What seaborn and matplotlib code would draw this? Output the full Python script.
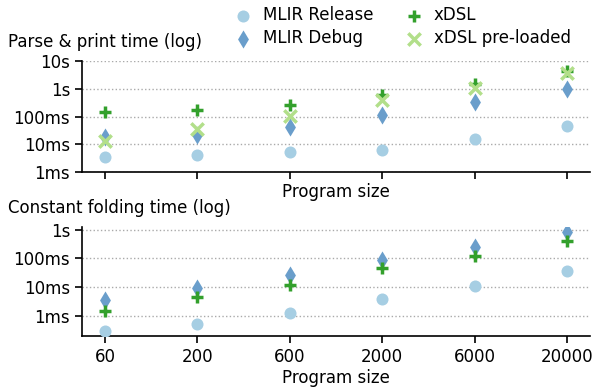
import matplotlib
matplotlib.use("Agg")
import matplotlib.pyplot as plt
import seaborn as sns
import pandas as pd
import numpy as np

sizes = ["60", "200", "600", "2000", "6000", "20000"]

# Parse & print times (seconds)
pp_release = [0.0035, 0.0040, 0.0052, 0.0063, 0.015, 0.045]
pp_debug = [0.018, 0.021, 0.043, 0.117, 0.33, 1.0]
pp_xdsl = [0.148, 0.173, 0.257, 0.575, 1.48, 4.5]
pp_xdsl_pre = [0.013, 0.036, 0.108, 0.40, 1.1, 3.8]

# Constant folding times (seconds)
cf_release = [0.00029, 0.00051, 0.0012, 0.0037, 0.0107, 0.037]
cf_debug = [0.0034, 0.0096, 0.026, 0.088, 0.25, 0.85]
cf_xdsl = [0.0015, 0.0044, 0.012, 0.045, 0.12, 0.41]

colors = {"MLIR Release": "#a6cee3", "MLIR Debug": "#6a9ecb",
          "xDSL": "#33a02c", "xDSL pre-loaded": "#b2df8a"}
markers = {"MLIR Release": "o", "MLIR Debug": "d",
           "xDSL": "+", "xDSL pre-loaded": "x"}
FS = 12

sns.set_theme(style="ticks", rc={"axes.edgecolor": "black",
                                 "xtick.color": "black", "ytick.color": "black",
                                 "text.color": "black", "axes.labelcolor": "black"})
plt.rcParams['font.family'] = ['DejaVu Sans']
plt.rcParams['font.size'] = FS

fig = plt.figure(figsize=(5.93, 3.88), dpi=100)
ax1 = fig.add_axes([82/593, 1-172/388, (590-82)/593, (172-61)/388])
ax2 = fig.add_axes([82/593, 1-336/388, (590-82)/593, (336-227)/388])


def draw(ax, data):
    rows = []
    for name, vals in data.items():
        for s, v in zip(sizes, vals):
            rows.append({"size": s, "time": v, "series": name})
    df = pd.DataFrame(rows)
    df["x"] = df["size"].map({s: i for i, s in enumerate(sizes)})
    for name in data:
        sub = df[df.series == name]
        m = markers[name]
        if m == "o":
            kw = dict(s=75, linewidth=0)
        elif m == "d":
            kw = dict(s=85, linewidth=0)
        else:
            kw = dict(s=80, linewidth=2.5)
        sns.scatterplot(data=sub, x="x", y="time", color=colors[name],
                        marker=m, ax=ax, label=name, zorder=3, **kw)
    ax.set_yscale("log")
    ax.set_xlim(-0.25, 5.25)
    ax.set_xticks(range(len(sizes)))
    ax.grid(axis="y", linestyle=":", color="#aaaaaa", linewidth=1)
    ax.set_ylabel("")
    sns.despine(ax=ax)
    ax.tick_params(labelsize=FS, length=5, width=1.2)
    for sp in ax.spines.values():
        sp.set_linewidth(1.2)


draw(ax1, {"MLIR Release": pp_release, "MLIR Debug": pp_debug,
           "xDSL": pp_xdsl, "xDSL pre-loaded": pp_xdsl_pre})
ax1.set_ylim(1e-3, 10)
ax1.set_yticks([1e-3, 1e-2, 1e-1, 1, 10])
ax1.set_yticklabels(["1ms", "10ms", "100ms", "1s", "10s"])
ax1.minorticks_off()
ax1.tick_params(axis="x", labelbottom=False)
ax1.set_xlabel("Program size", fontsize=FS, labelpad=3)

draw(ax2, {"MLIR Release": cf_release, "MLIR Debug": cf_debug, "xDSL": cf_xdsl})
ax2.set_ylim(10**-3.71, 10**0.1)
ax2.set_yticks([1e-3, 1e-2, 1e-1, 1])
ax2.set_yticklabels(["1ms", "10ms", "100ms", "1s"])
ax2.minorticks_off()
ax2.set_xticklabels(sizes)
ax2.set_xlabel("Program size", fontsize=FS, labelpad=2)

handles, labels = ax1.get_legend_handles_labels()
ax1.get_legend().remove()
ax2.get_legend().remove()
fig.legend(handles, labels, ncol=2, frameon=False, loc="upper left",
           bbox_to_anchor=(215/593, 1.022), fontsize=FS,
           handletextpad=0.4, columnspacing=1.6, labelspacing=0.3,
           handlelength=1.6)

fig.text(8/593, 1-42/388, "Parse & print time (log)", fontsize=FS, va="center")
fig.text(8/593, 1-208/388, "Constant folding time (log)", fontsize=FS, va="center")

fig.savefig("out.png", dpi=100)
